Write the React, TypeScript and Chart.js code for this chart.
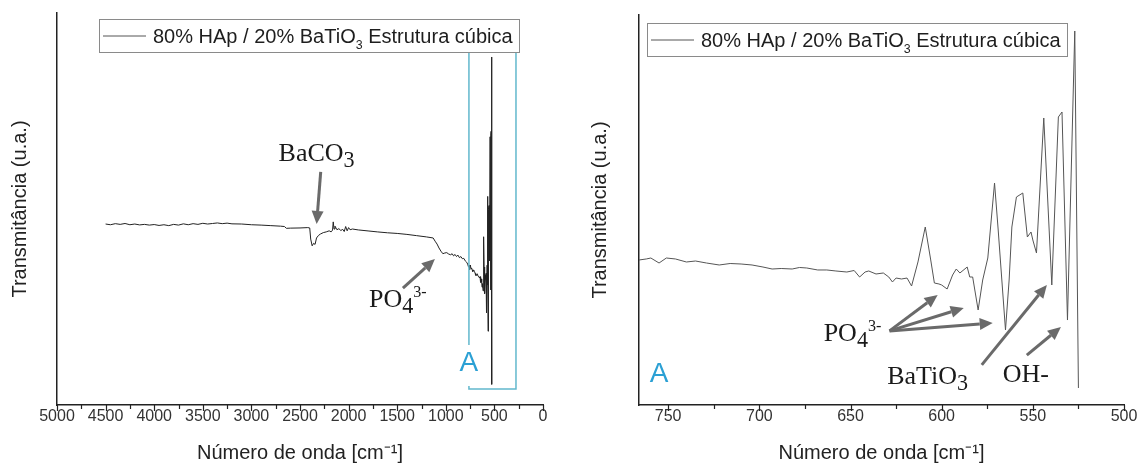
import React, { useEffect, useRef } from 'react';
import { Chart, registerables } from 'chart.js';

Chart.register(...registerables);

// ---------------- data ----------------
// Full spectrum (high wavenumber part), transmittance in arbitrary units
const overviewWavenumbers = [4500, 4450, 4400, 4350, 4300, 4250, 4200, 4150, 4100, 4050, 4000, 3950, 3900, 3850, 3800, 3750, 3700, 3650, 3600, 3550, 3500, 3450, 3400, 3350, 3300, 3250, 3200, 3100, 3000, 2900, 2800, 2700, 2660, 2640, 2600, 2500, 2420, 2400, 2390, 2375, 2360, 2345, 2330, 2310, 2290, 2260, 2230, 2200, 2180, 2165, 2158, 2150, 2140, 2120, 2100, 2080, 2060, 2045, 2030, 2015, 2000, 1985, 1960, 1900, 1800, 1700, 1600, 1500, 1400, 1300, 1200, 1130, 1110, 1090, 1070, 1050, 1030, 1010, 990, 970, 950, 935, 920, 905, 890, 875, 860, 845, 830, 815, 800, 785, 775];
const overviewTransmittance = [49.2, 49.0, 49.3, 49.1, 49.35, 49.0, 49.2, 48.95, 49.1, 48.9, 49.05, 48.8, 49.0, 48.75, 49.1, 48.9, 49.25, 49.0, 49.3, 49.1, 49.4, 49.2, 49.35, 49.5, 49.3, 49.45, 49.25, 49.2, 49.0, 48.9, 48.75, 48.6, 48.5, 48.0, 48.05, 48.1, 48.2, 48.1, 45.0, 43.1, 43.8, 43.5, 45.3, 46.0, 46.4, 46.8, 47.0, 47.3, 47.0, 47.5, 49.8, 47.8, 48.6, 47.6, 47.9, 47.4, 47.7, 47.1, 48.5, 47.3, 48.2, 47.6, 47.8, 47.55, 47.27, 46.99, 46.75, 46.57, 46.3, 45.95, 45.6, 45.3, 44.4, 43.6, 42.5, 41.6, 40.9, 41.1, 41.2, 40.8, 40.6, 40.9, 40.3, 40.7, 40.1, 40.5, 39.8, 40.1, 39.5, 39.6, 38.9, 38.5, 38.0];

// Detail region A (766 - 525 cm-1)
const detailWavenumbers = [766, 762, 759.5, 755, 751, 746, 740, 735, 729, 722, 716, 710, 704, 698, 693, 688, 682, 678, 674, 668, 663, 658, 652, 648, 645, 642, 640, 636, 632, 629, 627, 625, 622, 619, 616.5, 613, 609, 606, 604, 601.5, 600, 597, 594, 592, 590, 586, 584.6, 583, 580, 577.5, 574.7, 571, 569, 567, 565, 563, 561.5, 559, 555.5, 553, 551, 550, 548, 544, 539.6, 536, 534, 531, 527, 525];
const detailTransmittance = [37.18, 37.44, 37.69, 36.41, 37.69, 37.44, 36.67, 36.92, 36.41, 35.9, 36.28, 36.15, 35.9, 35.38, 34.87, 35.0, 34.87, 35.26, 35.13, 34.62, 34.62, 34.36, 34.1, 34.49, 32.82, 34.1, 34.36, 33.59, 33.85, 32.82, 31.54, 32.56, 32.31, 32.56, 30.51, 36.67, 45.64, 37.18, 31.28, 31.03, 30.77, 29.74, 33.33, 34.87, 33.85, 35.38, 32.82, 32.82, 24.36, 32.05, 37.69, 56.92, 44.87, 32.05, 19.23, 32.05, 45.64, 53.33, 54.36, 43.08, 44.36, 42.31, 38.97, 73.59, 30.77, 73.85, 75.13, 21.79, 95.9, 4.36];

const overviewTickStep = 250;
const overviewLabelStep = 500;
const detailTickStep = 25;
const detailLabelStep = 50;

const xTitle = 'Número de onda [cm⁻¹]';
const yTitle = 'Transmitância (u.a.)';
const legendParts = [{ t: '80% HAp / 20% BaTiO' }, { t: '3', s: 'sub' }, { t: ' Estrutura cúbica' }];

// annotations (data coordinates)
const overviewLabels = [
  { parts: [{ t: 'BaCO' }, { t: '3', s: 'sub' }], x: 2329, y: 69.4 },
  { parts: [{ t: 'PO' }, { t: '4', s: 'sub' }, { t: '3-', s: 'sup' }], x: 1494, y: 28.5 },
];
const overviewArrows = [
  { x1: 2287, y1: 63.8, x2: 2329, y2: 49.2 },
  { x1: 1441, y1: 31.3, x2: 1112, y2: 39.4 },
];
const detailLabels = [
  { parts: [{ t: 'PO' }, { t: '4', s: 'sub' }, { t: '3-', s: 'sup' }], x: 648.9, y: 18.7 },
  { parts: [{ t: 'BaTiO' }, { t: '3', s: 'sub' }], x: 607.7, y: 7.7 },
  { parts: [{ t: 'OH-' }], x: 553.8, y: 8.2 },
];
const detailArrows = [
  { x1: 628.6, y1: 19.0, x2: 602.2, y2: 28.2 },
  { x1: 628.6, y1: 19.0, x2: 587.9, y2: 24.9 },
  { x1: 628.6, y1: 19.0, x2: 572.0, y2: 21.0 },
  { x1: 578.0, y1: 10.3, x2: 542.3, y2: 30.8 },
  { x1: 553.3, y1: 12.8, x2: 534.6, y2: 20.0 },
];

const SANS = '"Liberation Sans", Arial, sans-serif';
const SERIF = '"Liberation Serif", "Times New Roman", serif';

type Part = { t: string; s?: string };

function drawRich(ctx: CanvasRenderingContext2D, parts: Part[], x: number, cy: number, family: string, size: number, color: string, align: 'center' | 'left', subScale: number, subDrop: number) {
  const segs = parts.map((p) => {
    const fs = p.s === 'sub' ? size * subScale : p.s === 'sup' ? size * 0.62 : size;
    ctx.font = `${fs}px ${family}`;
    return { ...p, fs, w: ctx.measureText(p.t).width };
  });
  const total = segs.reduce((a, s) => a + s.w, 0);
  let cx = align === 'center' ? x - total / 2 : x;
  const base = cy + size * 0.35;
  ctx.fillStyle = color;
  ctx.textAlign = 'left';
  ctx.textBaseline = 'alphabetic';
  segs.forEach((s) => {
    ctx.font = `${s.fs}px ${family}`;
    const dy = s.s === 'sub' ? size * subDrop : s.s === 'sup' ? -size * 0.38 : 0;
    ctx.fillText(s.t, cx, base + dy);
    cx += s.w;
  });
}

function drawArrow(ctx: CanvasRenderingContext2D, x1: number, y1: number, x2: number, y2: number) {
  const ang = Math.atan2(y2 - y1, x2 - x1);
  const hl = 13, hw = 6;
  const bx = x2 - hl * Math.cos(ang), by = y2 - hl * Math.sin(ang);
  ctx.strokeStyle = '#6a6a6a';
  ctx.fillStyle = '#6a6a6a';
  ctx.lineWidth = 3;
  ctx.beginPath();
  ctx.moveTo(x1, y1);
  ctx.lineTo(bx, by);
  ctx.stroke();
  ctx.beginPath();
  ctx.moveTo(x2, y2);
  ctx.lineTo(bx + hw * Math.sin(ang), by - hw * Math.cos(ang));
  ctx.lineTo(bx - hw * Math.sin(ang), by + hw * Math.cos(ang));
  ctx.closePath();
  ctx.fill();
}

const decorPlugin = {
  id: 'decor',
  afterDraw(chart: any, _args: any, opts: any) {
    const ctx: CanvasRenderingContext2D = chart.ctx;
    const xs = chart.scales.x;
    const ys = chart.scales.y;
    const area = chart.chartArea;
    ctx.save();
    // x ticks (major / minor)
    ctx.strokeStyle = '#222';
    ctx.lineWidth = 1.2;
    xs.ticks.forEach((t: any) => {
      const px = Math.round(xs.getPixelForValue(t.value)) + 0.5;
      const major = Math.abs(t.value % opts.labelStep) < 1e-6;
      ctx.beginPath();
      ctx.moveTo(px, area.bottom);
      ctx.lineTo(px, area.bottom + (major ? 6 : 4));
      ctx.stroke();
    });
    // region box
    if (opts.region) {
      const r = opts.region;
      const xa = xs.getPixelForValue(r.x1), xb = xs.getPixelForValue(r.x2);
      const ya = ys.getPixelForValue(r.y1), yb = ys.getPixelForValue(r.y2);
      const yg1 = ys.getPixelForValue(r.gapTop), yg2 = ys.getPixelForValue(r.gapBottom);
      ctx.strokeStyle = '#62b8cd';
      ctx.lineWidth = 1.5;
      ctx.beginPath();
      ctx.moveTo(xa, yg1);
      ctx.lineTo(xa, ya);
      ctx.lineTo(xb, ya);
      ctx.lineTo(xb, yb);
      ctx.lineTo(xa, yb);
      ctx.lineTo(xa, yg2);
      ctx.stroke();
    }
    // "A" label
    if (opts.tag) {
      ctx.font = `28px ${SANS}`;
      ctx.fillStyle = '#2ba0d4';
      ctx.textAlign = 'center';
      ctx.textBaseline = 'middle';
      ctx.fillText('A', xs.getPixelForValue(opts.tag.x), ys.getPixelForValue(opts.tag.y));
    }
    // arrows
    opts.arrows.forEach((a: any) => {
      drawArrow(ctx, xs.getPixelForValue(a.x1), ys.getPixelForValue(a.y1), xs.getPixelForValue(a.x2), ys.getPixelForValue(a.y2));
    });
    // annotation texts
    opts.labels.forEach((l: any) => {
      drawRich(ctx, l.parts, xs.getPixelForValue(l.x), ys.getPixelForValue(l.y), SERIF, 26, '#1a1a1a', 'center', 0.85, 0.22);
    });
    // legend
    const lg = opts.legend;
    const bx = area.left + lg.dx, by = area.top + lg.dy;
    ctx.fillStyle = '#fff';
    ctx.fillRect(bx, by, lg.w, lg.h);
    ctx.strokeStyle = '#8a8a8a';
    ctx.lineWidth = 1;
    ctx.strokeRect(bx + 0.5, by + 0.5, lg.w, lg.h);
    const my = by + lg.h / 2;
    ctx.strokeStyle = '#555';
    ctx.lineWidth = 1;
    ctx.beginPath();
    ctx.moveTo(bx + 4, my + 0.5);
    ctx.lineTo(bx + 47, my + 0.5);
    ctx.stroke();
    drawRich(ctx, legendParts, bx + 54, my, SANS, 20, '#1e1e1e', 'left', 0.62, 0.32);
    ctx.restore();
  },
};

function makeConfig(opts: any) {
  const points = opts.wn.map((w: number, i: number) => ({ x: w, y: opts.tr[i] }));
  return {
    type: 'line',
    data: {
      datasets: [
        {
          label: '80% HAp / 20% BaTiO₃ Estrutura cúbica',
          data: points,
          borderColor: opts.lineColor,
          borderWidth: 1,
          pointRadius: 0,
          tension: 0,
          fill: false,
        },
      ],
    },
    options: {
      animation: false,
      responsive: false,
      devicePixelRatio: 1,
      layout: { padding: { top: opts.padTop, right: opts.padRight, left: 0, bottom: 0 } },
      plugins: {
        legend: { display: false },
        tooltip: { enabled: false },
        decor: {
          labelStep: opts.labelStep,
          labels: opts.labels,
          arrows: opts.arrows,
          region: opts.region,
          tag: opts.tag,
          legend: opts.legend,
        },
      },
      scales: {
        x: {
          type: 'linear',
          reverse: true,
          min: opts.xMin,
          max: opts.xMax,
          grid: { display: false, drawTicks: false },
          border: { display: true, color: '#222', width: 1.5 },
          ticks: {
            stepSize: opts.tickStep,
            includeBounds: false,
            autoSkip: false,
            maxRotation: 0,
            padding: 2,
            color: '#333',
            font: { family: SANS, size: 16 },
            callback: (v: number) => (Math.abs(v % opts.labelStep) < 1e-6 ? String(v) : ''),
          },
          title: { display: true, text: xTitle, color: '#222', font: { family: SANS, size: 20 }, padding: { top: 0, bottom: 1 } },
          afterFit: (s: any) => {
            s.height = 61;
            s.paddingLeft = 0;
            s.paddingRight = 0;
          },
        },
        y: {
          type: 'linear',
          min: opts.yMin,
          max: opts.yMax,
          grid: { display: false, drawTicks: false },
          border: { display: true, color: '#222', width: 1.5 },
          ticks: { display: false },
          title: { display: true, text: yTitle, color: '#222', font: { family: SANS, size: 20 }, padding: { top: opts.yTitlePad, bottom: 0 } },
          afterFit: (s: any) => {
            s.width = opts.yWidth;
          },
        },
      },
    },
    plugins: [decorPlugin],
  } as any;
}

export default function App() {
  const leftRef = useRef<HTMLCanvasElement>(null);
  const rightRef = useRef<HTMLCanvasElement>(null);

  useEffect(() => {
    const left = new Chart(
      leftRef.current as HTMLCanvasElement,
      makeConfig({
        wn: [...overviewWavenumbers, ...detailWavenumbers],
        tr: [...overviewTransmittance, ...detailTransmittance],
        lineColor: '#222',
        xMin: 0,
        xMax: 5000,
        yMin: -1.4,
        yMax: 108.2,
        tickStep: overviewTickStep,
        labelStep: overviewLabelStep,
        padTop: 13,
        padRight: 27,
        yWidth: 57,
        yTitlePad: 8,
        labels: overviewLabels,
        arrows: overviewArrows,
        region: { x1: 762, x2: 278, y1: 97.3, y2: 3.1, gapTop: 15.4, gapBottom: 3.9 },
        tag: { x: 762, y: 10.4 },
        legend: { dx: 42, dy: 6, w: 420, h: 33 },
      })
    );
    const right = new Chart(
      rightRef.current as HTMLCanvasElement,
      makeConfig({
        wn: detailWavenumbers,
        tr: detailTransmittance,
        lineColor: '#555',
        xMin: 500,
        xMax: 766,
        yMin: 0,
        yMax: 100,
        tickStep: detailTickStep,
        labelStep: detailLabelStep,
        padTop: 15,
        padRight: 14,
        yWidth: 69,
        yTitlePad: 18,
        labels: detailLabels,
        arrows: detailArrows,
        region: null,
        tag: { x: 755, y: 7.9 },
        legend: { dx: 8, dy: 8, w: 420, h: 33 },
      })
    );
    return () => {
      left.destroy();
      right.destroy();
    };
  }, []);

  return (
    <div style={{ position: 'absolute', left: 0, top: 0, width: 1138, height: 466, background: '#fff' }}>
      <canvas ref={leftRef} width={570} height={466} style={{ position: 'absolute', left: 0, top: 0 }} />
      <canvas ref={rightRef} width={568} height={466} style={{ position: 'absolute', left: 570, top: 0 }} />
    </div>
  );
}
